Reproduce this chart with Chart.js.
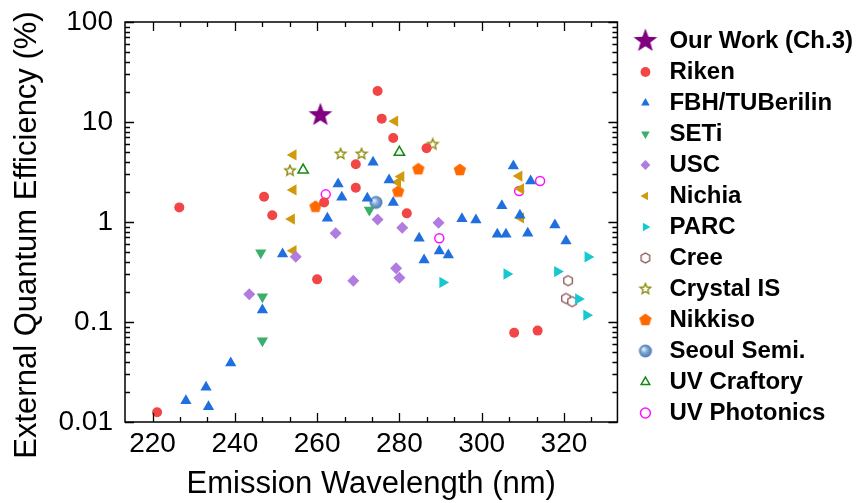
<!DOCTYPE html>
<html>
<head>
<meta charset="utf-8">
<script src="https://cdn.jsdelivr.net/npm/chart.js@4.4.1/dist/chart.umd.min.js"></script>
<style>
  html, body { margin: 0; padding: 0; background: #fff; }
</style>
</head>
<body>
<canvas id="chart" width="863" height="503"></canvas>
<script>
// emission wavelength (nm) and EQE (%) for each group
const ourWorkNm = [260.8];
const ourWorkEqe = [11.7];
const rikenNm = [221.1, 226.5, 247.1, 249.1, 260.0, 261.7, 269.4, 269.4, 274.7, 275.7, 278.5, 281.8, 286.6, 307.9, 313.6];
const rikenEqe = [0.0125, 1.40, 1.79, 1.17, 0.267, 1.57, 3.78, 2.2, 20.4, 10.8, 6.92, 1.22, 5.46, 0.078, 0.082];
const fbhNm = [228.1, 233.0, 233.6, 239.0, 246.7, 251.6, 262.5, 265.1, 266.0, 272.2, 273.6, 277.5, 278.5, 284.8, 286.0, 289.7, 291.9, 295.2, 298.6, 303.8, 304.9, 305.9, 307.7, 309.3, 311.2, 311.9, 317.8, 320.5];
const fbhEqe = [0.0163, 0.0222, 0.0142, 0.039, 0.132, 0.479, 1.09, 2.4, 1.77, 1.73, 3.95, 2.63, 1.57, 0.687, 0.417, 0.513, 0.468, 1.08, 1.05, 0.753, 1.45, 0.753, 3.63, 1.17, 0.77, 2.57, 0.933, 0.646];
const setiNm = [246.3, 246.7, 246.7, 272.7];
const setiEqe = [0.493, 0.179, 0.065, 1.32];
const uscNm = [243.5, 254.8, 264.5, 268.8, 274.7, 279.2, 280.0, 280.7, 289.5];
const uscEqe = [0.189, 0.45, 0.77, 0.259, 1.06, 0.344, 0.277, 0.877, 0.985];
const nichiaNm = [253.8, 254.2, 254.2, 254.2, 278.9, 279.6, 280.4, 309.1, 309.5, 309.5];
const nichiaEqe = [1.07, 4.68, 2.09, 0.517, 10.2, 2.5, 2.85, 2.88, 2.15, 1.1];
const parcNm = [290.5, 306.1, 318.4, 323.5, 325.5, 325.8];
const parcEqe = [0.249, 0.302, 0.319, 0.17, 0.117, 0.447];
const creeNm = [321.0, 320.5, 322.0];
const creeEqe = [0.259, 0.172, 0.16];
const crystalNm = [253.4, 265.7, 270.8, 288.1];
const crystalEqe = [3.26, 4.79, 4.79, 5.98];
const nikkisoNm = [259.6, 279.7, 284.6, 294.7];
const nikkisoEqe = [1.42, 2.01, 3.37, 3.31];
const seoulNm = [274.3];
const seoulEqe = [1.57];
const craftoryNm = [256.6, 280.0];
const craftoryEqe = [3.31, 4.97];
const photonicsNm = [262.1, 289.7, 309.1, 314.2];
const photonicsEqe = [1.89, 0.687, 2.04, 2.57];

const xTicks = [220, 240, 260, 280, 300, 320];
const yTicks = [0.01, 0.1, 1, 10, 100];
const yTickLabels = ['0.01', '0.1', '1', '10', '100'];
const xTitle = 'Emission Wavelength (nm)';
const yTitle = 'External Quantum Efficiency (%)';

const family = '"Liberation Sans", Arial, sans-serif';
const pts = (nm, eqe) => nm.map((v, i) => ({ x: v, y: eqe[i] }));

// custom marker images for the shapes Chart.js lacks
function marker(size, paint) {
  const c = document.createElement('canvas');
  c.width = size; c.height = size;
  const g = c.getContext('2d');
  g.translate(size / 2, size / 2);
  paint(g);
  return c;
}
function polygon(g, n, r, rot) {
  g.beginPath();
  for (let i = 0; i < n; i++) {
    const a = rot + i * 2 * Math.PI / n;
    g.lineTo(r * Math.cos(a), r * Math.sin(a));
  }
  g.closePath();
}
function starPath(g, ro, ri) {
  g.beginPath();
  for (let i = 0; i < 10; i++) {
    const r = i % 2 ? ri : ro;
    const a = -Math.PI / 2 + i * Math.PI / 5;
    g.lineTo(r * Math.cos(a), r * Math.sin(a));
  }
  g.closePath();
}
const bigStar = marker(28, g => { starPath(g, 12.5, 5.2); g.fillStyle = '#800080'; g.fill(); });
const smallStar = marker(14, g => {
  starPath(g, 5.5, 2.5); g.fillStyle = '#fff'; g.fill();
  g.strokeStyle = '#8E8E10'; g.lineWidth = 1.4; g.stroke();
});
const pentagon = marker(16, g => { polygon(g, 5, 6.5, -Math.PI / 2); g.fillStyle = '#FF6A00'; g.fill(); });
const hexagon = marker(14, g => {
  polygon(g, 6, 5, -Math.PI / 2); g.fillStyle = '#fff'; g.fill();
  g.strokeStyle = '#8C5555'; g.lineWidth = 1.3; g.stroke();
});
const sphere = marker(16, g => {
  const grad = g.createRadialGradient(-2, -2, 0.5, 0, 0, 6.5);
  grad.addColorStop(0, '#E8F0FA');
  grad.addColorStop(0.45, '#7FA8D8');
  grad.addColorStop(1, '#4A78B0');
  g.beginPath(); g.arc(0, 0, 6.5, 0, Math.PI * 2); g.fillStyle = grad; g.fill();
});

// frame with inward ticks on all four sides
const frameTicks = {
  id: 'frameTicks',
  afterDraw(chart) {
    const { ctx, chartArea: a, scales: { x, y } } = chart;
    ctx.save();
    ctx.strokeStyle = '#000';
    ctx.lineWidth = 1.5;
    ctx.strokeRect(a.left, a.top, a.right - a.left, a.bottom - a.top);
    ctx.lineWidth = 1.3;
    ctx.beginPath();
    for (let k = 0; k <= 30; k++) {
      const v = 200 + k * 20 / 3;
      if (v <= x.min + 0.5 || v >= x.max - 0.5) continue;
      const len = Math.abs(v / 20 - Math.round(v / 20)) < 0.01 ? 9 : 5;
      const px = Math.round(x.getPixelForValue(v)) + 0.5;
      ctx.moveTo(px, a.bottom); ctx.lineTo(px, a.bottom - len);
      ctx.moveTo(px, a.top); ctx.lineTo(px, a.top + len);
    }
    for (let d = -2; d <= 1; d++) {
      for (let m = 1; m <= 10; m++) {
        const v = m * Math.pow(10, d);
        const py = Math.round(y.getPixelForValue(v)) + 0.5;
        const len = (m === 1 || m === 10) ? 9 : 5;
        ctx.moveTo(a.left, py); ctx.lineTo(a.left + len, py);
        ctx.moveTo(a.right, py); ctx.lineTo(a.right - len, py);
      }
    }
    ctx.stroke();
    ctx.restore();
  }
};

const axisTitles = {
  id: 'axisTitles',
  afterDraw(chart) {
    const { ctx, chartArea: a } = chart;
    ctx.save();
    ctx.fillStyle = '#000';
    ctx.font = '31px ' + family;
    ctx.textAlign = 'center';
    ctx.textBaseline = 'middle';
    ctx.fillText(xTitle, (a.left + a.right) / 2, 484);
    ctx.translate(27, 235);
    ctx.rotate(-Math.PI / 2);
    ctx.fillText(yTitle, 0, 0);
    ctx.restore();
  }
};

new Chart(document.getElementById('chart'), {
  type: 'scatter',
  data: {
    datasets: [
      { label: 'Our Work (Ch.3)', data: pts(ourWorkNm, ourWorkEqe), pointStyle: bigStar, backgroundColor: '#800080', borderWidth: 0 },
      { label: 'Riken', data: pts(rikenNm, rikenEqe), pointStyle: 'circle', pointRadius: 5, backgroundColor: '#F24545', borderWidth: 0 },
      { label: 'FBH/TUBerilin', data: pts(fbhNm, fbhEqe), pointStyle: 'triangle', pointRadius: 6.5, backgroundColor: '#1F6FDF', borderWidth: 0 },
      { label: 'SETi', data: pts(setiNm, setiEqe), pointStyle: 'triangle', pointRotation: 180, pointRadius: 6.5, backgroundColor: '#3AAE6A', borderWidth: 0 },
      { label: 'USC', data: pts(uscNm, uscEqe), pointStyle: 'rectRot', pointRadius: 6, backgroundColor: '#B07CE0', borderWidth: 0 },
      { label: 'Nichia', data: pts(nichiaNm, nichiaEqe), pointStyle: 'triangle', pointRotation: 270, pointRadius: 6.5, backgroundColor: '#D19A0C', borderWidth: 0 },
      { label: 'PARC', data: pts(parcNm, parcEqe), pointStyle: 'triangle', pointRotation: 90, pointRadius: 6.5, backgroundColor: '#16C8D0', borderWidth: 0 },
      { label: 'Cree', data: pts(creeNm, creeEqe), pointStyle: hexagon, backgroundColor: '#fff', borderColor: '#8C5555', borderWidth: 1.3 },
      { label: 'Crystal IS', data: pts(crystalNm, crystalEqe), pointStyle: smallStar, backgroundColor: '#fff', borderColor: '#8E8E10', borderWidth: 1.4 },
      { label: 'Nikkiso', data: pts(nikkisoNm, nikkisoEqe), pointStyle: pentagon, backgroundColor: '#FF6A00', borderWidth: 0 },
      { label: 'Seoul Semi.', data: pts(seoulNm, seoulEqe), pointStyle: sphere, backgroundColor: '#6C9BD2', borderWidth: 0 },
      { label: 'UV Craftory', data: pts(craftoryNm, craftoryEqe), pointStyle: 'triangle', pointRadius: 6, backgroundColor: 'rgba(255,255,255,0)', borderColor: '#138A13', borderWidth: 1.5 },
      { label: 'UV Photonics', data: pts(photonicsNm, photonicsEqe), pointStyle: 'circle', pointRadius: 4.5, backgroundColor: 'rgba(255,255,255,0)', borderColor: '#FF10FF', borderWidth: 1.5 }
    ]
  },
  options: {
    responsive: false,
    animation: false,
    events: [],
    layout: { padding: { top: 22, right: 0, bottom: 0, left: 0 } },
    plugins: {
      legend: {
        position: 'right',
        align: 'start',
        maxWidth: 300,
        labels: {
          usePointStyle: true,
          boxHeight: 7,
          padding: 7,
          color: '#000',
          font: { family: family, size: 24, weight: 'bold' }
        }
      },
      tooltip: { enabled: false }
    },
    scales: {
      x: {
        type: 'linear',
        min: 213.3,
        max: 333,
        grid: { display: false, drawTicks: false },
        border: { display: false },
        afterBuildTicks: s => { s.ticks = xTicks.map(v => ({ value: v })); },
        afterFit: s => { s.height = 81; },
        ticks: { color: '#000', padding: 5, maxRotation: 0, autoSkip: false, font: { family: family, size: 28 } }
      },
      y: {
        type: 'logarithmic',
        min: 0.01,
        max: 100,
        grid: { display: false, drawTicks: false },
        border: { display: false },
        afterBuildTicks: s => { s.ticks = yTicks.map(v => ({ value: v })); },
        afterFit: s => { s.width = 125; },
        ticks: { color: '#000', padding: 12, autoSkip: false, font: { family: family, size: 28, lineHeight: 0.7 }, callback: (v, i) => yTickLabels[i] }
      },
      yR: {
        type: 'linear',
        position: 'right',
        display: true,
        grid: { display: false, drawTicks: false },
        border: { display: false },
        ticks: { display: false },
        afterFit: s => { s.width = 9; }
      }
    }
  },
  plugins: [frameTicks, axisTitles]
});
</script>
</body>
</html>
